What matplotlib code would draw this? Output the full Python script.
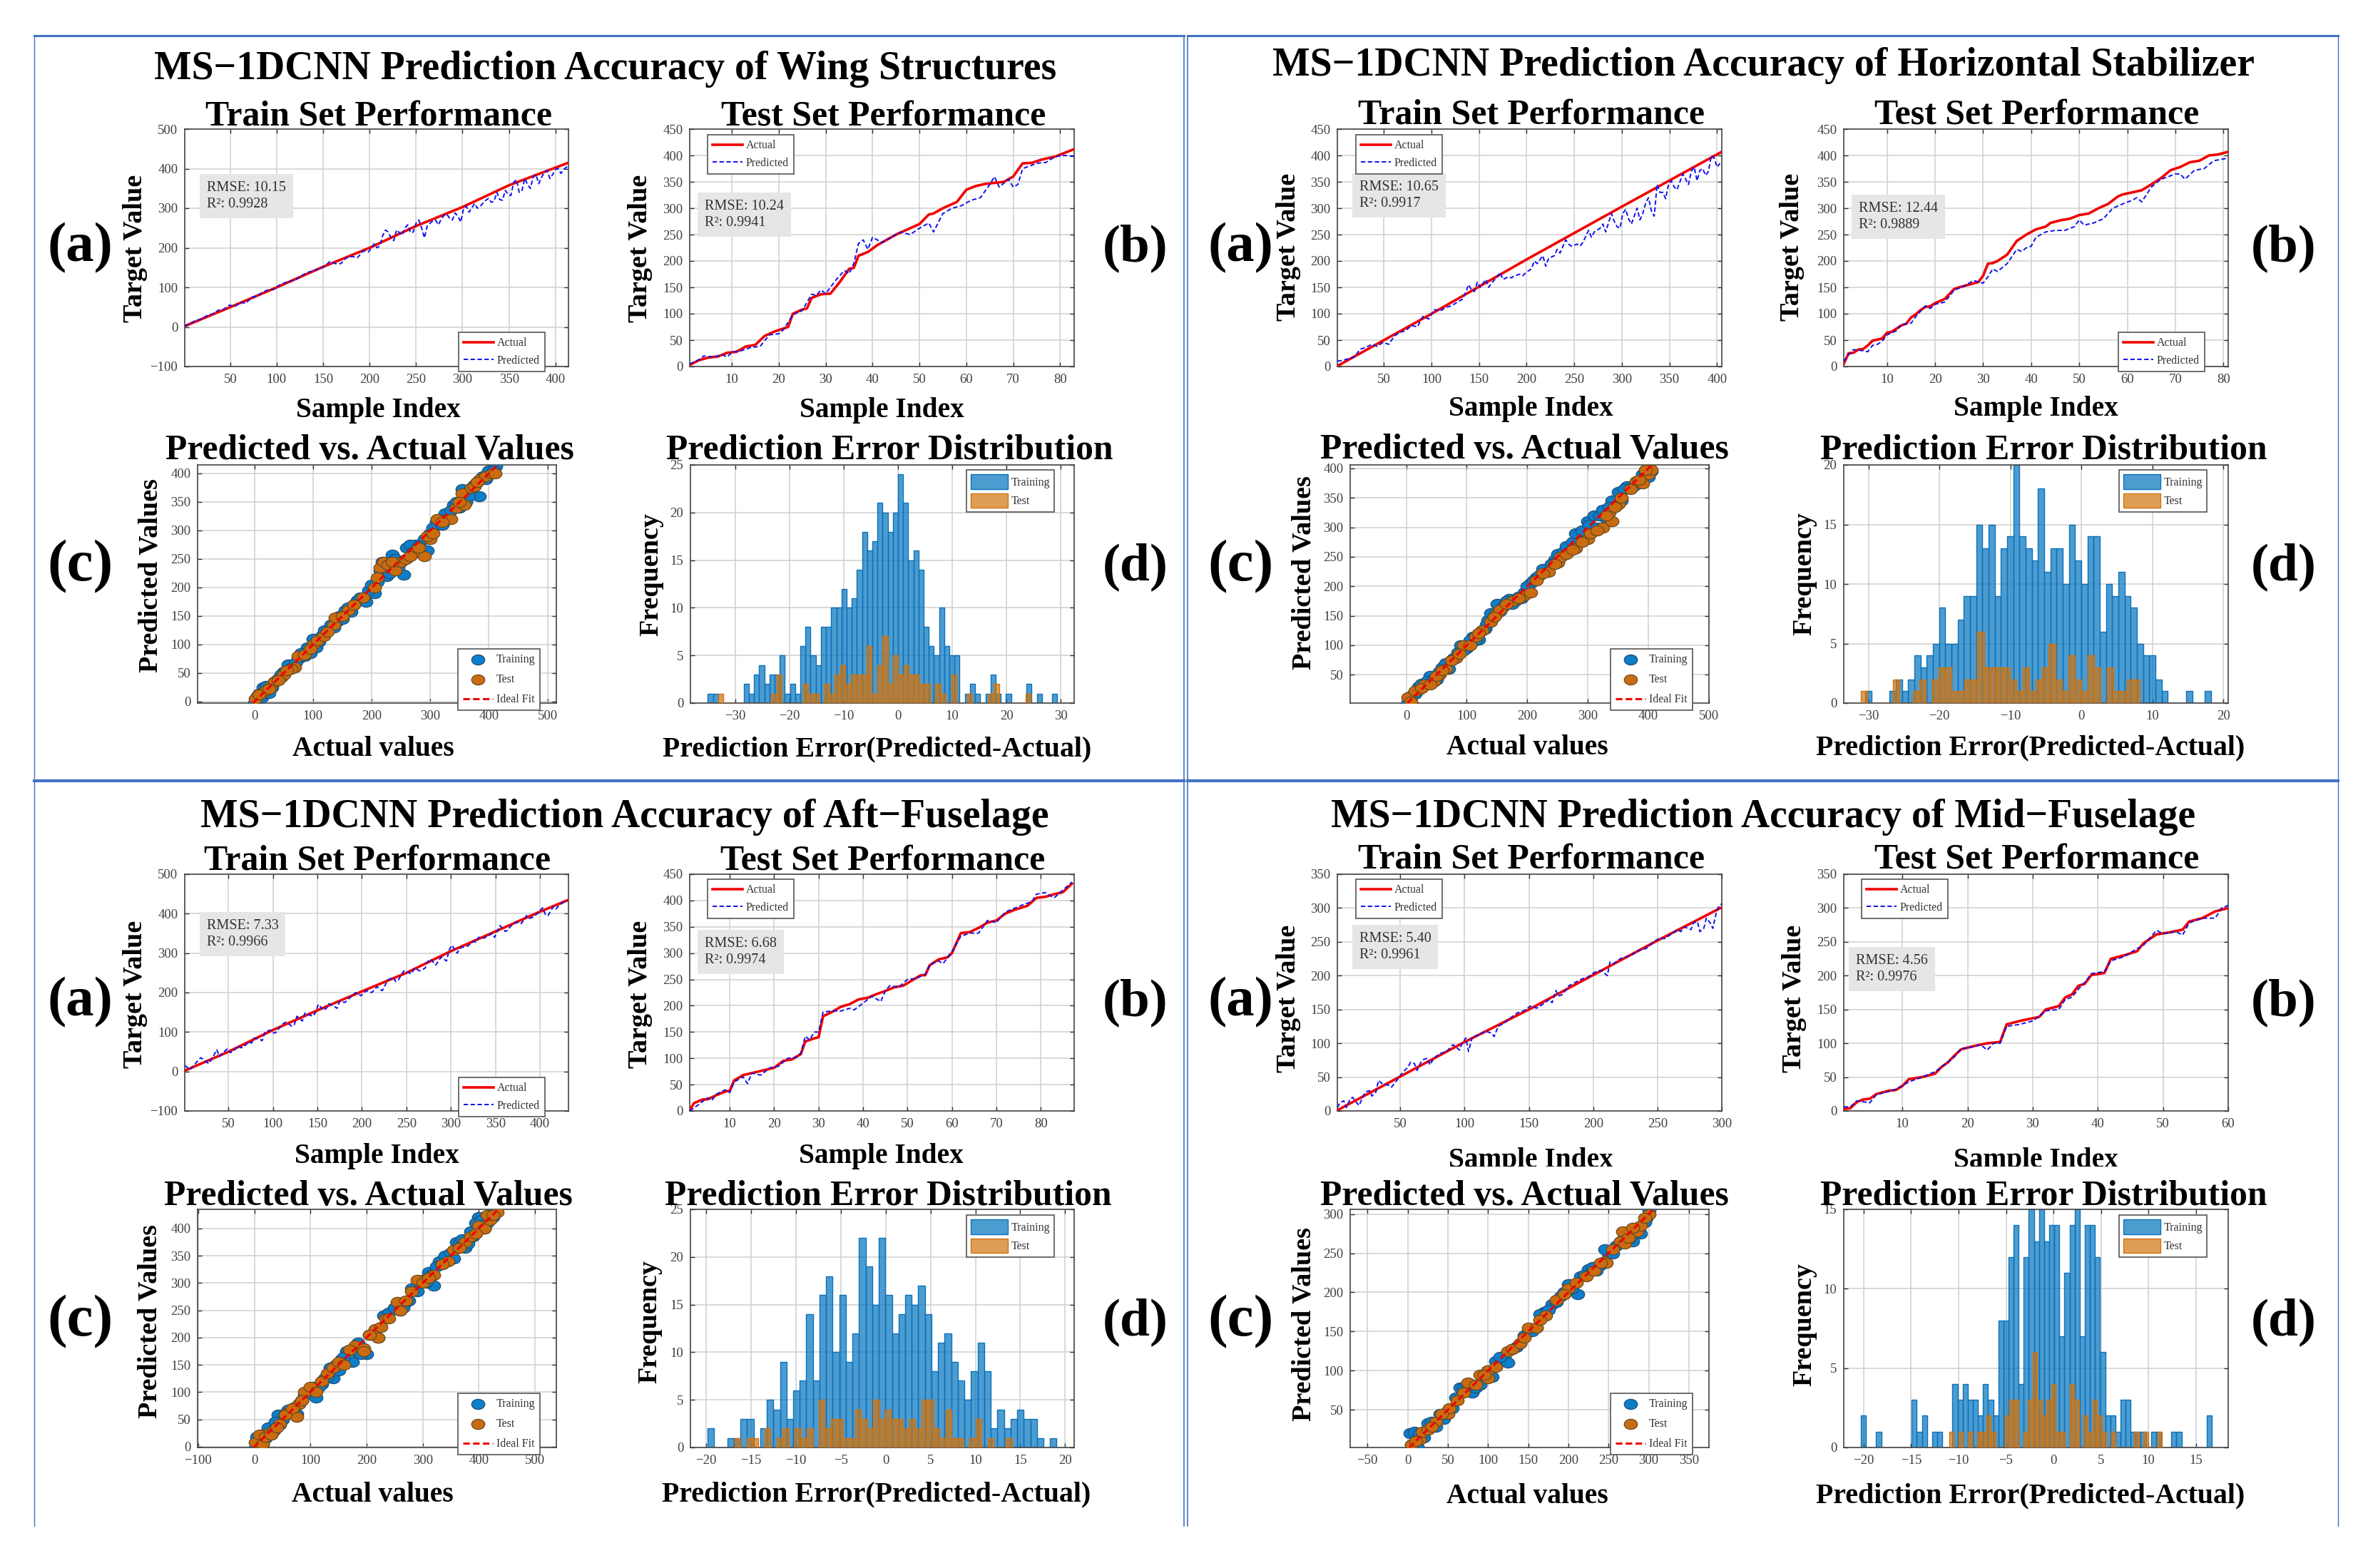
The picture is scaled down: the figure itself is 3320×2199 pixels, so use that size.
import numpy as np
import matplotlib
matplotlib.use("Agg")
import matplotlib.pyplot as plt
from matplotlib.lines import Line2D
from matplotlib.markers import MarkerStyle
from matplotlib.patches import Rectangle
from matplotlib.transforms import Affine2D

W, H = 3320, 2199
plt.rcParams['font.family'] = ['Liberation Serif', 'DejaVu Serif']

# ---------- Wing ----------
wing_train_actual_x = [1, 50, 100, 150, 200, 250, 300, 350, 414]
wing_train_actual_y = [2, 50, 100, 152, 200, 255, 303, 358, 415]
wing_train_pred_x = [1,7,13,19,25,31,37,43,49,55,61,67,73,79,85,91,97,103,109,115,121,127,133,139,145,151,157,163,169,175,181,187,193,199,205,211,217,223,229,235,241,247,253,259,265,271,277,283,289,295,301,307,313,319,325,331,337,343,349,355,361,367,373,379,385,391,397,403,409,414,
                     208,214,220,226,232,238,244,250,256,262,268,274,280,286,292,298,304,316,328,334,340,346,352,358,364,370,376,382,388,394,400,406]
wing_train_pred_y = [2,10,16,20,29,33,42,45,55,52,62,60,75,78,88,94,95,106,112,116,120,130,138,141,147,152,165,160,160,175,178,175,192,190,210,205,245,225,245,232,258,240,270,225,262,270,272,285,270,280,298,290,312,305,320,315,340,320,335,365,340,375,350,385,378,395,385,400,398,408,
                     200,230,240,218,238,250,238,262,250,255,268,258,282,275,288,265,305,300,325,318,322,345,332,372,345,360,378,362,390,375,398,388]
wing_test_actual_x = [1,3,5,7,9,11,13,15,17,19,21,22,23,25,26,27,29,31,33,35,36,37,39,41,43,45,47,50,52,53,55,58,60,62,64,68,70,72,74,76,79,81,83]
wing_test_actual_y = [3,12,17,19,26,28,38,41,58,66,72,75,100,108,110,130,137,138,160,185,187,210,217,230,240,250,258,270,288,290,300,312,335,342,346,350,360,385,386,392,398,405,412]
wing_test_pred_x = [1,3,4,6,8,9,10,12,14,16,18,20,21,23,25,27,28,29,30,32,34,35,36,37,38,39,40,42,44,46,48,50,52,53,55,57,59,61,63,65,66,67,69,70,71,72,75,77,79,81,83]
wing_test_pred_y = [5,13,20,18,22,18,27,30,36,38,60,62,70,98,106,137,135,145,138,162,182,176,195,233,240,222,245,235,245,255,250,262,272,255,290,300,305,315,320,345,360,340,355,340,345,375,385,387,398,400,398]
wing_sc_train_x = [0,5,15,20,30,40,50,58,65,75,85,90,100,105,115,125,135,145,155,165,175,190,205,210,218,225,235,245,255,260,275,290,295,310,325,340,350,355,375,383,390,405,412,
                   8,12,25,35,45,55,70,80,95,110,120,130,140,150,160,170,180,195,200,215,220,230,240,250,265,270,280,300,305,315,320,335,345,360,365,370,380,395,400,408]
wing_sc_train_y = [-2,10,25,28,25,40,52,65,60,75,80,95,110,95,115,125,130,150,160,158,178,175,190,210,245,220,258,235,222,270,275,285,265,315,330,345,340,372,380,360,395,400,412,
                   14,8,15,35,48,55,68,85,85,105,125,135,140,145,165,170,182,195,205,230,240,225,250,245,275,262,272,295,305,320,310,335,350,350,360,375,385,390,405,405]
wing_sc_test_x = [2,12,20,28,35,45,50,68,62,75,100,108,135,138,160,185,215,220,228,240,250,258,270,290,280,300,312,335,345,355,358,370,385,395,405,410,
                  8,25,40,55,85,95,118,125,150,170,205,210,235,265,295,305,320,350,375,380]
wing_sc_test_y = [5,15,20,28,35,42,47,60,58,80,100,108,135,148,160,182,235,245,240,230,245,250,260,255,270,285,320,320,340,365,345,375,390,395,400,400,
                  12,22,38,55,82,92,115,122,150,170,200,218,245,255,290,295,315,350,378,385]
wing_hist_train = [1,1,0,0,0,0,0,2,1,3,4,2,3,3,5,1,2,1,6,8,5,4,8,8,10,10,12,10,11,14,18,16,17,21,20,18,20,24,21,15,16,14,8,6,5,10,6,5,5,0,1,2,1,0,1,3,1,0,1,0,0,0,2,0,1,0,0,1]
wing_hist_test = [1,0,0,0,0,0,0,0,0,0,1,3,0,0,0,0,2,1,1,0,2,1,3,4,2,3,3,3,6,1,4,7,2,5,3,4,3,3,2,2,0,2,1,0,3,0,0,1,0,0,0,1,2,0,0,0,0,0,1]
wing_train_range, wing_test_range = (-35.1, 29.4), (-33.2, 24.5)

# ---------- Horizontal stabilizer ----------
stab_train_actual_x = [1, 100, 200, 300, 405]
stab_train_actual_y = [1, 100, 203, 303, 407]
stab_train_pred_x = [1,7,13,19,25,31,37,43,49,55,61,67,73,79,85,91,97,103,109,115,121,127,133,139,145,151,157,163,169,175,181,187,193,199,205,211,217,223,229,235,241,247,253,259,265,271,277,283,289,295,301,307,313,319,325,331,337,343,349,355,361,367,373,379,385,391,397,403,
                     142,148,160,172,184,196,208,220,232,244,256,268,280,292,298,304,310,316,322,328,334,340,346,352,358,364,370,376,382,388,394,400]
stab_train_pred_y = [10,12,15,18,33,36,42,38,46,42,58,65,68,78,75,95,90,108,105,112,115,122,128,155,142,150,165,158,170,165,170,172,175,178,185,195,210,205,210,215,240,228,232,235,258,255,262,255,290,265,290,280,285,278,310,295,345,330,345,340,350,355,370,352,375,370,395,385,
                     145,160,150,178,168,172,200,190,222,232,228,245,270,275,262,298,270,300,290,320,285,330,318,352,335,365,345,378,372,362,400,378]
stab_test_actual_x = [1,2,3,4,5,6,7,8,9,10,11,12,13,14,15,16,17,18,19,20,21,22,24,25,27,29,30,31,32,33,35,37,39,41,43,44,46,48,50,52,54,56,58,59,61,63,65,67,69,71,73,75,77,79,81]
stab_test_actual_y = [5,25,26,32,33,40,49,51,53,64,66,72,78,81,93,99,107,113,114,120,124,128,147,150,155,160,172,195,196,200,212,238,250,260,265,272,277,280,287,290,300,308,322,326,330,334,345,357,372,378,387,390,400,402,407]
stab_test_pred_x = [1,2,3,5,6,7,8,9,10,12,13,15,16,18,19,20,22,24,26,28,30,31,32,33,35,37,38,39,40,41,43,45,47,49,50,51,53,55,57,59,61,62,63,65,67,68,70,71,72,74,76,78,81]
stab_test_pred_y = [10,22,32,30,28,40,42,48,60,68,80,82,95,115,110,118,122,145,152,163,158,170,185,180,195,222,218,225,228,245,255,258,258,265,278,268,272,280,300,308,315,320,312,340,355,358,365,365,355,372,375,390,395]
stab_sc_train_x = [3,10,20,30,40,50,60,70,78,90,100,110,120,130,135,140,150,160,170,180,190,205,215,230,245,255,270,285,295,300,305,310,330,340,355,365,385,400,405,
                   6,15,25,35,45,55,65,75,85,95,105,115,125,132,145,155,165,175,185,195,200,210,220,225,240,250,260,265,275,280,290,302,315,320,325,335,345,350,360,375,390,395]
stab_sc_train_y = [3,15,30,35,48,42,62,60,78,100,95,115,110,128,142,155,170,165,178,175,180,205,215,225,245,250,262,282,290,310,295,320,315,345,345,370,375,385,395,
                   8,18,35,40,42,55,70,75,88,92,108,108,125,135,150,158,175,170,182,190,200,210,218,230,238,255,258,268,275,290,295,305,300,320,330,335,335,360,365,370,390,395]
stab_sc_test_x = [3,20,30,45,55,65,82,95,115,125,150,155,175,195,205,215,235,250,255,265,280,300,305,325,340,335,350,355,380,390,400,405,
                  8,15,25,40,50,60,75,88,105,120,140,145,165,185,225,245,275,290,315,330,345,370,385,395]
stab_sc_test_y = [12,25,33,38,50,60,78,100,115,125,155,160,175,185,190,210,225,240,250,255,265,280,290,300,310,325,340,350,378,375,390,398,
                  5,22,28,33,48,58,75,85,100,120,140,148,170,180,222,238,262,275,295,320,335,365,380,398]
stab_hist_train = [1,0,0,0,1,2,1,2,4,3,4,5,8,5,5,7,9,9,15,13,15,9,13,14,20,14,13,12,18,11,13,13,10,15,12,10,14,14,6,10,9,11,9,8,5,4,4,2,1,0,0,0,1,0,0,1]
stab_hist_test = [1,0,0,0,0,2,0,0,1,2,0,2,3,3,1,1,2,2,6,3,3,3,3,2,1,3,1,2,3,5,2,1,4,2,1,4,3,0,3,1,1,2,2]
stab_train_range, stab_test_range = (-30.5, 18.3), (-31.1, 8.2)

# ---------- Aft fuselage ----------
aft_train_actual_x = [1, 50, 100, 150, 200, 250, 300, 350, 400, 432]
aft_train_actual_y = [2, 50, 105, 155, 203, 250, 305, 355, 405, 435]
aft_train_pred_x = [1,7,13,19,25,31,37,43,49,55,61,67,73,79,85,91,97,103,109,115,121,127,133,139,145,151,157,163,169,175,181,187,193,199,205,211,217,223,229,235,241,247,253,259,265,271,277,283,289,295,301,307,313,319,325,331,337,343,349,355,361,367,373,379,385,391,397,403,409,415,421,427,431,
                    16,28,40,52,64,76,88,100,112,124,136,148,160,172,184,220,238,256,274,298,310,328,346,364,388,406,418]
aft_train_pred_y = [15,5,20,35,25,30,55,45,58,50,65,62,75,85,82,100,105,98,115,125,115,140,128,145,140,170,155,172,165,178,175,188,200,192,205,200,215,205,232,238,232,255,250,262,255,262,285,270,290,280,320,300,315,318,330,340,338,345,340,370,355,368,378,375,395,390,400,415,395,418,420,430,432,
                    28,20,38,48,60,72,78,98,122,118,148,150,160,160,182,208,228,248,278,308,312,328,350,358,388,398,412]
aft_test_actual_x = [1,2,4,5,7,9,10,11,13,15,17,19,20,22,24,26,27,29,30,31,33,35,37,39,41,43,45,47,49,51,53,54,55,57,59,60,62,64,66,68,70,72,74,77,79,81,83,85,87]
aft_test_actual_y = [2,15,22,22,30,37,38,58,68,72,76,80,82,95,98,108,132,138,140,180,188,198,203,212,215,222,228,235,238,248,258,258,277,288,292,300,338,340,348,358,362,375,382,390,405,407,412,416,432]
aft_test_pred_x = [1,3,5,6,7,9,10,11,13,14,15,17,19,21,23,25,26,27,28,29,30,31,33,35,37,38,40,42,44,45,46,48,50,52,54,55,57,58,60,62,64,66,68,70,72,74,76,78,79,81,83,85,87]
aft_test_pred_y = [0,12,25,20,32,40,35,55,65,52,72,68,82,85,100,102,110,142,135,150,150,188,190,190,195,192,205,218,208,228,238,235,250,252,260,278,285,280,303,332,338,338,362,358,378,385,392,398,412,415,405,420,435]
aft_sc_train_x = [2,5,15,25,35,42,50,60,75,85,95,110,120,125,140,155,165,175,185,200,220,230,260,270,280,300,310,320,330,340,360,375,390,400,410,420,430,
                  8,12,20,30,38,45,55,65,70,80,90,100,105,115,130,135,145,150,160,170,180,190,205,210,240,250,265,275,290,295,305,315,325,335,350,355,365,370,380,385,395,405,415,425]
aft_sc_train_y = [-3,18,5,35,30,58,50,68,60,85,98,90,115,125,125,160,175,155,190,170,200,240,250,265,290,305,320,295,340,350,375,365,385,420,400,425,435,
                  10,20,15,22,45,40,60,62,72,78,95,105,110,110,128,145,150,140,165,178,175,170,205,205,245,255,255,268,285,300,300,315,330,335,355,345,372,380,372,395,410,415,410,420]
aft_sc_test_x = [2,15,25,35,45,60,75,80,90,100,130,140,180,195,195,215,220,235,240,255,280,290,300,320,345,355,375,385,400,410,420,433,
                 10,20,30,40,55,68,85,110,120,150,160,170,205,225,260,270,310,335,365,395,415,425]
aft_sc_test_y = [8,5,25,30,42,62,55,78,100,110,135,145,185,180,175,215,200,235,235,265,285,305,300,315,340,360,375,385,405,400,415,430,
                 22,18,22,35,58,70,85,100,120,155,150,178,205,220,250,268,310,335,365,390,425,425]
aft_hist_train = [2,0,0,1,1,3,3,0,2,5,4,9,3,6,7,14,7,16,18,10,16,9,12,22,19,15,22,16,12,14,16,15,17,14,8,11,12,9,7,5,8,11,8,2,4,2,3,4,3,3,1,0,1]
aft_hist_test = [1,0,1,1,0,2,0,1,2,0,2,1,2,0,5,2,3,3,1,1,4,3,2,5,3,4,3,3,2,3,2,5,5,2,1,4,1,1,0,1,3,0,1,0,0,1]
aft_train_range, aft_test_range = (-19.85, 19.05), (-16.85, 14.05)

# ---------- Mid fuselage ----------
mid_train_actual_x = [1, 50, 100, 150, 200, 250, 300]
mid_train_actual_y = [1, 51, 102, 150, 201, 252, 301]
mid_train_pred_x = [1,6,11,16,21,26,31,36,41,46,51,56,61,66,71,76,81,86,91,96,101,106,111,116,121,126,131,136,141,146,151,156,161,166,171,176,181,186,191,196,201,206,211,216,221,226,231,236,241,246,251,256,261,266,271,276,281,286,291,296,300,
                    3,8,13,18,23,28,33,43,58,63,68,73,98,103,123,168,173,213,268,278,283,288,293,298]
mid_train_pred_y = [5,15,18,12,22,30,28,40,38,42,55,65,70,72,78,78,85,88,98,90,108,110,112,118,115,125,130,138,145,148,155,152,158,165,178,172,185,190,195,198,205,208,200,218,225,228,232,238,240,248,255,255,262,268,272,268,280,270,278,295,306,
                    12,5,20,8,28,22,45,35,72,60,76,68,100,88,110,160,170,220,265,278,265,285,270,304]
mid_test_actual_x = [1,2,3,4,5,6,8,9,10,11,13,15,16,17,18,19,21,23,25,26,28,30,31,32,34,35,36,37,38,39,41,42,44,46,47,49,51,53,54,56,58,60]
mid_test_actual_y = [3,4,13,17,18,25,30,31,37,47,50,55,65,72,82,91,96,100,102,128,133,137,139,150,155,168,172,185,188,201,204,225,230,236,248,261,264,268,280,285,295,300]
mid_test_pred_x = [1,2,3,5,6,8,9,11,13,15,16,18,19,21,22,23,24,25,26,28,30,31,32,34,35,36,37,38,39,41,42,44,46,47,49,50,52,53,54,56,58,59,60]
mid_test_pred_y = [6,6,15,12,24,29,32,43,50,58,65,80,92,95,98,90,100,100,125,128,133,140,148,150,165,168,180,190,203,206,222,228,240,245,267,262,265,260,278,285,285,300,304]
mid_sc_train_x = [3,8,12,20,25,35,40,50,60,65,70,80,85,95,105,110,120,125,135,145,150,160,170,180,190,200,212,215,225,240,250,260,270,280,290,300,297,
                  5,15,30,45,55,75,90,100,115,130,140,155,165,175,185,195,205,220,230,235,245,255,265,275,285,295]
mid_sc_train_y = [20,22,3,15,33,28,45,48,66,78,78,72,78,95,92,112,118,110,130,145,150,155,175,185,195,210,198,220,230,235,250,260,272,265,275,305,295,
                  6,20,35,38,52,82,82,100,118,128,135,150,172,178,188,200,205,222,232,228,255,250,265,268,280,290]
mid_sc_test_x = [5,15,18,25,35,50,52,62,75,90,100,100,125,130,140,150,160,172,185,200,222,232,245,247,265,268,270,285,290,300,
                 10,30,42,70,85,95,110,145,165,195,210,240,255,275,280,295]
mid_sc_test_y = [6,12,22,25,35,45,52,62,85,95,100,90,125,128,135,155,155,170,190,205,220,228,240,238,265,278,262,278,285,300,
                 10,28,45,72,82,95,105,142,165,198,212,238,255,270,282,295]
mid_hist_train = [2,0,0,1,0,0,0,0,0,0,3,1,2,0,1,1,0,0,4,3,4,3,3,2,4,3,2,8,8,12,14,4,12,15,13,15,13,14,14,7,11,14,15,7,14,14,12,6,2,2,1,3,3,1,1,1,0,1,1,0,0,1,1,0,0,0,0,0,2]
mid_hist_test = [1,0,1,0,1,0,1,1,2,1,0,0,2,3,3,0,1,3,6,3,2,3,4,1,1,0,4,3,0,2,1,3,2,1,0,1,0,0,0,0,1,0,1,0,0,1]
mid_train_range, mid_test_range = (-20.3, 16.7), (-11.0, 11.44)

# ---------- Labels ----------
main_titles = ['MS\u22121DCNN Prediction Accuracy of Wing Structures',
               'MS\u22121DCNN Prediction Accuracy of Horizontal Stabilizer',
               'MS\u22121DCNN Prediction Accuracy of Aft\u2212Fuselage',
               'MS\u22121DCNN Prediction Accuracy of Mid\u2212Fuselage']
metric_train = ['RMSE: 10.15\nR\u00b2: 0.9928', 'RMSE: 10.65\nR\u00b2: 0.9917', 'RMSE: 7.33\nR\u00b2: 0.9966', 'RMSE: 5.40\nR\u00b2: 0.9961']
metric_test = ['RMSE: 10.24\nR\u00b2: 0.9941', 'RMSE: 12.44\nR\u00b2: 0.9889', 'RMSE: 6.68\nR\u00b2: 0.9974', 'RMSE: 4.56\nR\u00b2: 0.9976']

fig = plt.figure(figsize=(W / 100, H / 100), dpi=100, facecolor='white')
renderer = fig.canvas.get_renderer()


def new_ax(x0, y0, x1, y1):
    ax = fig.add_axes([x0 / W, 1 - y1 / H, (x1 - x0) / W, (y1 - y0) / H])
    ax.grid(True, color='#cfcfcf', lw=1.1)
    ax.set_axisbelow(True)
    ax.tick_params(direction='in', length=4, width=1, top=True, right=True,
                   labelsize=13.5, labelcolor='#404040', color='#333333', pad=7)
    for s in ax.spines.values():
        s.set_color('#444444')
        s.set_linewidth(1.2)
    return ax


def label(txt, cx, cy, width, rotation=0):
    t = fig.text(cx / W, 1 - cy / H, txt, ha='center', va='center', rotation=rotation,
                 fontweight='bold', fontsize=30, color='black')
    bb = t.get_window_extent(renderer)
    cur = bb.height if rotation else bb.width
    t.set_fontsize(30 * width / cur)
    return t


def legend(ax, x0, y0, **kw):
    leg = ax.legend(loc='upper left', bbox_to_anchor=(x0 / W, 1 - y0 / H),
                    bbox_transform=fig.transFigure, borderaxespad=0, fontsize=11.5,
                    fancybox=False, framealpha=1, edgecolor='#555555', **kw)
    leg.get_frame().set_linewidth(1.2)
    for t in leg.get_texts():
        t.set_color('#333333')


def line_panel(ax, ax_, ay_, px_, py_, xlim, ylim, xticks, yticks, metric, mpos, lpos):
    order = np.argsort(px_)
    ax.plot(ax_, ay_, color='#f00000', lw=2.6, label='Actual', zorder=3)
    ax.plot(np.asarray(px_)[order], np.asarray(py_)[order], color='#1010ee', lw=1.4,
            ls=(0, (3.2, 1.8)), label='Predicted', zorder=4)
    ax.set_xlim(*xlim)
    ax.set_ylim(*ylim)
    ax.set_xticks(xticks)
    ax.set_yticks(yticks)
    bb = ax.get_window_extent(renderer)
    ax.text((mpos[0] - bb.x0) / bb.width, 1 - (mpos[1] - (H - bb.y1)) / bb.height, metric,
            transform=ax.transAxes, ha='left', va='center', fontsize=14.5, color='#333333',
            linespacing=1.35,
            bbox=dict(facecolor='#e6e6e6', edgecolor='none', pad=7), zorder=5)
    legend(ax, lpos[0], lpos[1], handlelength=2.6, labelspacing=0.55, borderpad=0.45,
           handletextpad=0.3)


def scatter_panel(ax, trx, try_, tex, tey, xlim, ylim, xticks, yticks, lpos):
    mk = MarkerStyle('o', transform=Affine2D().scale(1.3, 1.0))
    ax.scatter(trx, try_, s=105, marker=mk, color='#0d7ec9', edgecolors='#1f4f7a', linewidths=0.9,
               label='Training', zorder=3, clip_on=True)
    ax.scatter(tex, tey, s=105, marker=mk, color='#c96c10', edgecolors='#6a4a20', linewidths=0.9,
               label='Test', zorder=4)
    ax.plot([ylim[0], ylim[1]], [ylim[0], ylim[1]], color='#f00000', lw=2.2, ls=(0, (3, 1.5)),
            label='Ideal Fit', zorder=5)
    ax.set_xlim(*xlim)
    ax.set_ylim(*ylim)
    ax.set_xticks(xticks)
    ax.set_yticks(yticks)
    legend(ax, lpos[0], lpos[1], handlelength=2.6, labelspacing=0.75, borderpad=0.45,
           handletextpad=0.3)


def hist_panel(ax, tr, tr_rng, te, te_rng, xlim, ylim, xticks, yticks, lpos):
    w1 = (tr_rng[1] - tr_rng[0]) / len(tr)
    e1 = tr_rng[0] + w1 * np.arange(len(tr))
    w2 = (te_rng[1] - te_rng[0]) / len(te)
    e2 = te_rng[0] + w2 * np.arange(len(te))
    ax.bar(e1, tr, w1, align='edge', color=(0.0, 0.447, 0.741, 0.7), edgecolor='#0b72bd', lw=1.0,
           label='Training', zorder=2)
    ax.bar(e2, te, w2, align='edge', color=(0.82, 0.46, 0.06, 0.7), edgecolor='#cf7413', lw=1.0,
           label='Test', zorder=3)
    ax.set_xlim(*xlim)
    ax.set_ylim(*ylim)
    ax.set_xticks(xticks)
    ax.set_yticks(yticks)
    legend(ax, lpos[0], lpos[1], handlelength=3.2, handleheight=1.6, labelspacing=0.35,
           borderpad=0.4, handletextpad=0.3)


# ---------- Panel A: Wing ----------
a = new_ax(259, 181, 797, 514)
line_panel(a, wing_train_actual_x, wing_train_actual_y, wing_train_pred_x, wing_train_pred_y, (1, 414), (-100, 500),
           range(50, 401, 50), range(-100, 501, 100), metric_train[0], (290, 275), (643, 466))
a = new_ax(967, 181, 1506, 514)
line_panel(a, wing_test_actual_x, wing_test_actual_y, wing_test_pred_x, wing_test_pred_y, (1, 83), (0, 450),
           range(10, 81, 10), range(0, 451, 50), metric_test[0], (988, 301), (992, 189))
a = new_ax(277, 652, 780, 986)
scatter_panel(a, wing_sc_train_x, wing_sc_train_y, wing_sc_test_x, wing_sc_test_y, (-97, 515), (-2.5, 415),
              range(0, 501, 100), range(0, 401, 50), (642, 910))
a = new_ax(968, 652, 1506, 986)
hist_panel(a, wing_hist_train, wing_train_range, wing_hist_test, wing_test_range, (-38.3, 32.5), (0, 25),
           range(-30, 31, 10), range(0, 26, 5), (1355, 659))

# ---------- Panel B: Stabilizer ----------
a = new_ax(1875, 181, 2414, 514)
line_panel(a, stab_train_actual_x, stab_train_actual_y, stab_train_pred_x, stab_train_pred_y, (1, 405), (0, 450),
           range(50, 401, 50), range(0, 451, 50), metric_train[1], (1906, 274), (1901, 189))
a = new_ax(2585, 181, 3124, 514)
line_panel(a, stab_test_actual_x, stab_test_actual_y, stab_test_pred_x, stab_test_pred_y, (1, 81), (0, 450),
           range(10, 81, 10), range(0, 451, 50), metric_test[1], (2606, 304), (2970, 466))
a = new_ax(1893, 652, 2396, 986)
scatter_panel(a, stab_sc_train_x, stab_sc_train_y, stab_sc_test_x, stab_sc_test_y, (-92.5, 500), (2, 406),
              range(0, 501, 100), range(50, 401, 50), (2258, 910))
a = new_ax(2585, 652, 3124, 986)
hist_panel(a, stab_hist_train, stab_train_range, stab_hist_test, stab_test_range, (-33.5, 20.7), (0, 20),
           range(-30, 21, 10), range(0, 21, 5), (2971, 659))

# ---------- Panel C: Aft fuselage ----------
a = new_ax(259, 1226, 797, 1558)
line_panel(a, aft_train_actual_x, aft_train_actual_y, aft_train_pred_x, aft_train_pred_y, (1, 432), (-100, 500),
           range(50, 401, 50), range(-100, 501, 100), metric_train[2], (290, 1310), (643, 1511))
a = new_ax(967, 1226, 1506, 1558)
line_panel(a, aft_test_actual_x, aft_test_actual_y, aft_test_pred_x, aft_test_pred_y, (1, 87.5), (0, 450),
           range(10, 81, 10), range(0, 451, 50), metric_test[2], (988, 1335), (992, 1233))
a = new_ax(277, 1696, 780, 2030)
scatter_panel(a, aft_sc_train_x, aft_sc_train_y, aft_sc_test_x, aft_sc_test_y, (-101, 538), (-1.5, 435),
              range(-100, 501, 100), range(0, 401, 50), (642, 1954))
a = new_ax(968, 1696, 1506, 2030)
hist_panel(a, aft_hist_train, aft_train_range, aft_hist_test, aft_test_range, (-21.75, 21), (0, 25),
           range(-20, 21, 5), range(0, 26, 5), (1355, 1704))

# ---------- Panel D: Mid fuselage ----------
a = new_ax(1875, 1226, 2414, 1558)
line_panel(a, mid_train_actual_x, mid_train_actual_y, mid_train_pred_x, mid_train_pred_y, (1, 300), (0, 350),
           range(50, 301, 50), range(0, 351, 50), metric_train[3], (1906, 1328), (1901, 1233))
a = new_ax(2585, 1226, 3124, 1558)
line_panel(a, mid_test_actual_x, mid_test_actual_y, mid_test_pred_x, mid_test_pred_y, (1, 60), (0, 350),
           range(10, 61, 10), range(0, 351, 50), metric_test[3], (2602, 1359), (2610, 1233))
a = new_ax(1893, 1696, 2396, 2030)
scatter_panel(a, mid_sc_train_x, mid_sc_train_y, mid_sc_test_x, mid_sc_test_y, (-71.5, 375), (2, 306),
              range(-50, 351, 50), range(50, 301, 50), (2258, 1954))
a = new_ax(2585, 1696, 3124, 2030)
hist_panel(a, mid_hist_train, mid_train_range, mid_hist_test, mid_test_range, (-22.1, 18.4), (0, 15),
           range(-20, 16, 5), range(0, 16, 5), (2971, 1704))

# ---------- Text ----------
label(main_titles[0], 849, 97, 1262)
label(main_titles[1], 2472, 92, 1374)
label(main_titles[2], 876, 1146, 1187)
label(main_titles[3], 2472, 1146, 1211)

for cx, cy, txt, wd in [
    (531, 163, 'Train Set Performance', 485), (1239, 163, 'Test Set Performance', 454),
    (2147, 161, 'Train Set Performance', 485), (2856, 161, 'Test Set Performance', 454),
    (529, 1208, 'Train Set Performance', 485), (1238, 1208, 'Test Set Performance', 454),
    (2147, 1205, 'Train Set Performance', 485), (2856, 1205, 'Test Set Performance', 454),
    (530, 576, 'Sample Index', 231), (1236, 576, 'Sample Index', 231),
    (2146, 574, 'Sample Index', 231), (2854, 574, 'Sample Index', 231),
    (528, 1622, 'Sample Index', 231), (1235, 1622, 'Sample Index', 231),
    (2146, 1627, 'Sample Index', 231), (2854, 1627, 'Sample Index', 231),
    (518, 632, 'Predicted vs. Actual Values', 572), (1247, 632, 'Prediction Error Distribution', 625),
    (2137, 631, 'Predicted vs. Actual Values', 572), (2865, 631, 'Prediction Error Distribution', 625),
    (516, 1678, 'Predicted vs. Actual Values', 572), (1245, 1678, 'Prediction Error Distribution', 625),
    (2137, 1678, 'Predicted vs. Actual Values', 572), (2865, 1678, 'Prediction Error Distribution', 625),
    (523, 1051, 'Actual values', 227), (1230, 1051, 'Prediction Error(Predicted-Actual)', 600),
    (2141, 1049, 'Actual values', 227), (2847, 1049, 'Prediction Error(Predicted-Actual)', 600),
    (522, 2096, 'Actual values', 227), (1229, 2096, 'Prediction Error(Predicted-Actual)', 600),
    (2141, 2098, 'Actual values', 227), (2847, 2098, 'Prediction Error(Predicted-Actual)', 600),
]:
    label(txt, cx, cy, wd)

for cx, cy, txt, wd in [
    (189, 348, 'Target Value', 207), (897, 348, 'Target Value', 207),
    (1807, 346, 'Target Value', 207), (2512, 346, 'Target Value', 207),
    (189, 1394, 'Target Value', 207), (897, 1394, 'Target Value', 207),
    (1807, 1400, 'Target Value', 207), (2515, 1400, 'Target Value', 207),
    (211, 807, 'Predicted Values', 272), (913, 806, 'Frequency', 173),
    (1828, 803, 'Predicted Values', 272), (2530, 804, 'Frequency', 173),
    (210, 1853, 'Predicted Values', 272), (911, 1853, 'Frequency', 173),
    (1828, 1857, 'Predicted Values', 272), (2530, 1857, 'Frequency', 173),
]:
    label(txt, cx, cy, wd, rotation=90)

for cx, cy, txt in [
    (112, 348, '(a)'), (1592, 348, '(b)'), (112, 795, '(c)'), (1592, 795, '(d)'),
    (1739, 348, '(a)'), (3202, 348, '(b)'), (1739, 795, '(c)'), (3202, 795, '(d)'),
    (112, 1406, '(a)'), (1592, 1406, '(b)'), (112, 1854, '(c)'), (1592, 1854, '(d)'),
    (1739, 1406, '(a)'), (3202, 1406, '(b)'), (1739, 1854, '(c)'), (3202, 1854, '(d)'),
]:
    label(txt, cx, cy, 92)

# clipped strip under the lower right row, as in the source figure
fig.add_artist(Rectangle((1870 / W, 1 - 1650 / H), 1260 / W, 14 / H, transform=fig.transFigure,
                         facecolor='white', edgecolor='none', zorder=10))

# ---------- Panel frames ----------
frame = '#4472c4'
for (x0, y0, x1, y1, lw) in [
    (48, 50, 1660, 50, 2.2), (1665, 50, 3278, 50, 2.2),
    (48, 1095, 1660, 1095, 3), (1665, 1095, 3278, 1095, 3),
    (48, 50, 48, 2140, 1.0), (1660, 50, 1660, 2140, 1.2), (1665, 50, 1665, 2140, 1.2), (3278, 50, 3278, 2140, 1.0),
]:
    fig.add_artist(Line2D([x0 / W, x1 / W], [1 - y0 / H, 1 - y1 / H], color=frame, lw=lw))

fig.savefig('out.png', dpi=100)
